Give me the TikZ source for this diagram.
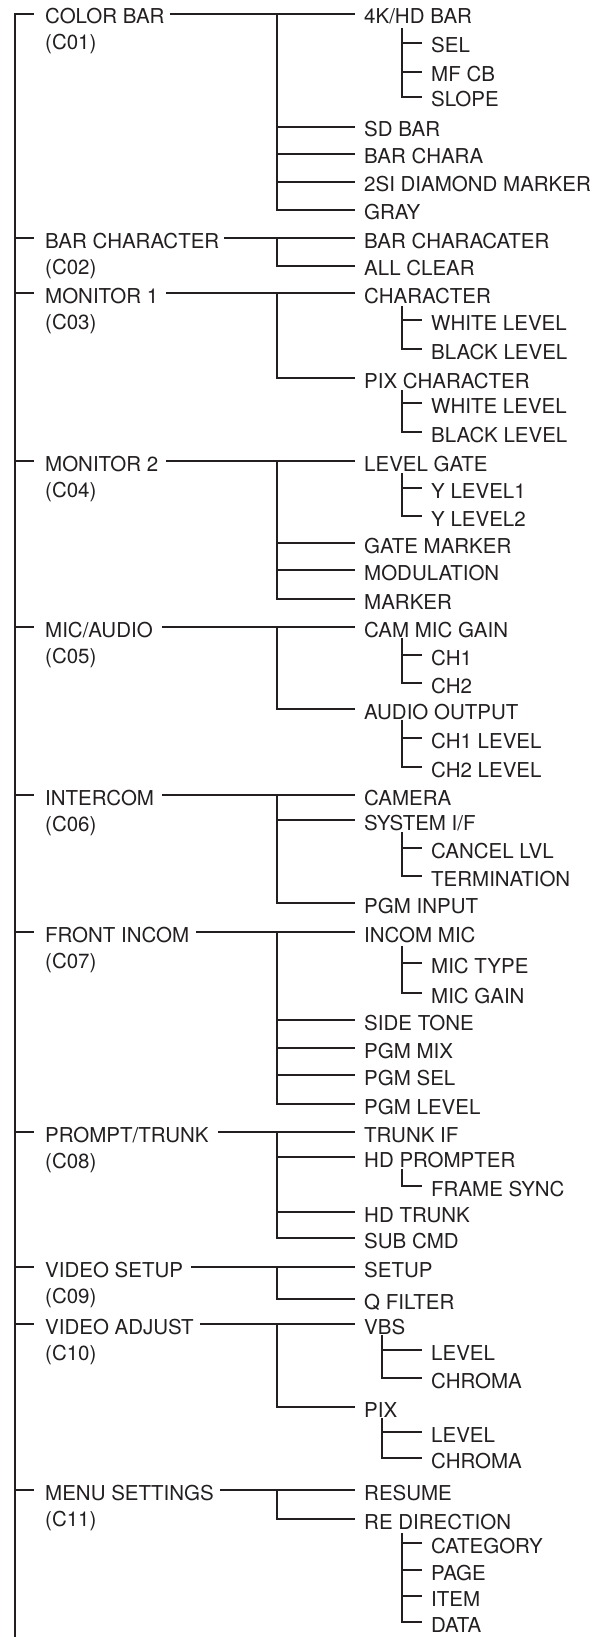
\documentclass[tikz,border=0pt]{standalone}
\usepackage{fontspec}
\setmainfont{TeX Gyre Heros}
\usetikzlibrary{calc}
\definecolor{inkgray}{HTML}{231F20}

\begin{document}
\begin{tikzpicture}[x=1pt,y=-1pt,
  lbl/.style={inner sep=0pt,anchor=west,text height=20pt,text depth=0pt,
    font=\fontsize{20.5}{24}\selectfont,text=inkgray},
  ln/.style={line width=1.1pt,draw=inkgray}]
\useasboundingbox (0,0) rectangle (602,1637);
\coordinate (trunk) at (15,1637);
\coordinate (bus) at (277,0);
\coordinate (sub) at (402,0);
\coordinate (subva) at (382,0);

% Menus
\node[lbl] (cb) at (45,14) {COLOR BAR};
\node[lbl] (bc) at (45,238) {BAR CHARACTER};
\node[lbl] (mona) at (45,293) {MONITOR 1};
\node[lbl] (monb) at (45,461) {MONITOR 2};
\node[lbl] (mic) at (45,627) {MIC/AUDIO};
\node[lbl] (icom) at (45,795) {INTERCOM};
\node[lbl] (fic) at (45,932) {FRONT INCOM};
\node[lbl] (pt) at (45,1132) {PROMPT/TRUNK};
\node[lbl] (vs) at (45,1267) {VIDEO SETUP};
\node[lbl] (va) at (45,1324) {VIDEO ADJUST};
\node[lbl] (ms) at (45,1490) {MENU SETTINGS};
\node[lbl] (c01) at ([yshift=-26pt]cb.west) {(C01)};
\node[lbl] (c02) at ([yshift=-26pt]bc.west) {(C02)};
\node[lbl] (c03) at ([yshift=-26pt]mona.west) {(C03)};
\node[lbl] (c04) at ([yshift=-26pt]monb.west) {(C04)};
\node[lbl] (c05) at ([yshift=-26pt]mic.west) {(C05)};
\node[lbl] (c06) at ([yshift=-26pt]icom.west) {(C06)};
\node[lbl] (c07) at ([yshift=-26pt]fic.west) {(C07)};
\node[lbl] (c08) at ([yshift=-26pt]pt.west) {(C08)};
\node[lbl] (c09) at ([yshift=-26pt]vs.west) {(C09)};
\node[lbl] (c10) at ([yshift=-26pt]va.west) {(C10)};
\node[lbl] (c11) at ([yshift=-26pt]ms.west) {(C11)};

% Items
\node[lbl] (hdbar) at (364,14) {4K/HD BAR};
\node[lbl] (sel) at (431,43) {SEL};
\node[lbl] (mfcb) at (431,72) {MF CB};
\node[lbl] (slope) at (431,97) {SLOPE};
\node[lbl] (sdbar) at (364,127) {SD BAR};
\node[lbl] (barchara) at (364,154) {BAR CHARA};
\node[lbl] (dmark) at (364,182) {2SI DIAMOND MARKER};
\node[lbl] (gray) at (364,210) {GRAY};
\node[lbl] (bchar) at (364,238) {BAR CHARACATER};
\node[lbl] (allclr) at (364,266) {ALL CLEAR};
\node[lbl] (chara) at (364,293) {CHARACTER};
\node[lbl] (wlvla) at (431,320) {WHITE LEVEL};
\node[lbl] (blvla) at (431,349) {BLACK LEVEL};
\node[lbl] (pixchara) at (364,378) {PIX CHARACTER};
\node[lbl] (wlvlb) at (431,403) {WHITE LEVEL};
\node[lbl] (blvlb) at (431,432) {BLACK LEVEL};
\node[lbl] (lgate) at (364,461) {LEVEL GATE};
\node[lbl] (ylvla) at (431,488) {Y LEVEL1};
\node[lbl] (ylvlb) at (431,516) {Y LEVEL2};
\node[lbl] (gmark) at (364,543) {GATE MARKER};
\node[lbl] (modul) at (364,570) {MODULATION};
\node[lbl] (marker) at (364,599) {MARKER};
\node[lbl] (cammic) at (364,627) {CAM MIC GAIN};
\node[lbl] (cha) at (431,655) {CH1};
\node[lbl] (chb) at (431,683) {CH2};
\node[lbl] (audout) at (364,709) {AUDIO OUTPUT};
\node[lbl] (chalvl) at (431,738) {CH1 LEVEL};
\node[lbl] (chblvl) at (431,767) {CH2 LEVEL};
\node[lbl] (camera) at (364,795) {CAMERA};
\node[lbl] (sysif) at (364,820) {SYSTEM I/F};
\node[lbl] (cancel) at (431,848) {CANCEL LVL};
\node[lbl] (term) at (431,876) {TERMINATION};
\node[lbl] (pgmin) at (364,903) {PGM INPUT};
\node[lbl] (incmic) at (364,932) {INCOM MIC};
\node[lbl] (mictype) at (431,963) {MIC TYPE};
\node[lbl] (micgain) at (431,993) {MIC GAIN};
\node[lbl] (stone) at (364,1020) {SIDE TONE};
\node[lbl] (pgmmix) at (364,1048) {PGM MIX};
\node[lbl] (pgmsel) at (364,1075) {PGM SEL};
\node[lbl] (pgmlvl) at (364,1104) {PGM LEVEL};
\node[lbl] (trunkif) at (364,1132) {TRUNK IF};
\node[lbl] (hdprompt) at (364,1157) {HD PROMPTER};
\node[lbl] (fsync) at (431,1186) {FRAME SYNC};
\node[lbl] (hdtrunk) at (364,1212) {HD TRUNK};
\node[lbl] (subcmd) at (364,1238) {SUB CMD};
\node[lbl] (setup) at (364,1267) {SETUP};
\node[lbl] (qfilter) at (364,1299) {Q FILTER};
\node[lbl] (vbs) at (364,1324) {VBS};
\node[lbl] (vbslvl) at (431,1350) {LEVEL};
\node[lbl] (vbschr) at (431,1378) {CHROMA};
\node[lbl] (pix) at (364,1407) {PIX};
\node[lbl] (pixlvl) at (431,1432) {LEVEL};
\node[lbl] (pixchr) at (431,1458) {CHROMA};
\node[lbl] (resume) at (364,1490) {RESUME};
\node[lbl] (redir) at (364,1519) {RE DIRECTION};
\node[lbl] (categ) at (431,1543) {CATEGORY};
\node[lbl] (page) at (431,1570) {PAGE};
\node[lbl] (item) at (431,1596) {ITEM};
\node[lbl] (data) at (431,1622) {DATA};

% Trunk
\draw[ln] (trunk) |- ([xshift=-11pt]cb.west);
\draw[ln] (bc.west -| trunk) -- ([xshift=-11pt]bc.west);
\draw[ln] (mona.west -| trunk) -- ([xshift=-11pt]mona.west);
\draw[ln] (monb.west -| trunk) -- ([xshift=-11pt]monb.west);
\draw[ln] (mic.west -| trunk) -- ([xshift=-11pt]mic.west);
\draw[ln] (icom.west -| trunk) -- ([xshift=-11pt]icom.west);
\draw[ln] (fic.west -| trunk) -- ([xshift=-11pt]fic.west);
\draw[ln] (pt.west -| trunk) -- ([xshift=-11pt]pt.west);
\draw[ln] (vs.west -| trunk) -- ([xshift=-11pt]vs.west);
\draw[ln] (va.west -| trunk) -- ([xshift=-11pt]va.west);
\draw[ln] (ms.west -| trunk) -- ([xshift=-11pt]ms.west);

% COLOR BAR
\draw[ln] ([xshift=5pt]cb.east) -- ([xshift=-9pt]hdbar.west);
\draw[ln] (hdbar.west -| bus) |- ([xshift=-9pt]gray.west);
\draw[ln] (sdbar.west -| bus) -- ([xshift=-9pt]sdbar.west);
\draw[ln] (barchara.west -| bus) -- ([xshift=-9pt]barchara.west);
\draw[ln] (dmark.west -| bus) -- ([xshift=-9pt]dmark.west);
\draw[ln] ($(hdbar.west -| sub)+(0,14)$) |- ([xshift=-9pt]slope.west);
\draw[ln] (sel.west -| sub) -- ([xshift=-9pt]sel.west);
\draw[ln] (mfcb.west -| sub) -- ([xshift=-9pt]mfcb.west);

% BAR CHARACTER
\draw[ln] ([xshift=5pt]bc.east) -- ([xshift=-9pt]bchar.west);
\draw[ln] (bchar.west -| bus) |- ([xshift=-9pt]allclr.west);

% MONITOR 1
\draw[ln] ([xshift=8pt]mona.east) -- ([xshift=-9pt]chara.west);
\draw[ln] (chara.west -| bus) |- ([xshift=-9pt]pixchara.west);
\draw[ln] ($(chara.west -| sub)+(0,13)$) |- ([xshift=-9pt]blvla.west);
\draw[ln] (wlvla.west -| sub) -- ([xshift=-9pt]wlvla.west);
\draw[ln] ($(pixchara.west -| sub)+(0,12)$) |- ([xshift=-9pt]blvlb.west);
\draw[ln] (wlvlb.west -| sub) -- ([xshift=-9pt]wlvlb.west);

% MONITOR 2
\draw[ln] ([xshift=8pt]monb.east) -- ([xshift=-9pt]lgate.west);
\draw[ln] (lgate.west -| bus) |- ([xshift=-9pt]marker.west);
\draw[ln] (gmark.west -| bus) -- ([xshift=-9pt]gmark.west);
\draw[ln] (modul.west -| bus) -- ([xshift=-9pt]modul.west);
\draw[ln] ($(lgate.west -| sub)+(0,12)$) |- ([xshift=-9pt]ylvlb.west);
\draw[ln] (ylvla.west -| sub) -- ([xshift=-9pt]ylvla.west);

% MIC/AUDIO
\draw[ln] ([xshift=9pt]mic.east) -- ([xshift=-9pt]cammic.west);
\draw[ln] (cammic.west -| bus) |- ([xshift=-9pt]audout.west);
\draw[ln] ($(cammic.west -| sub)+(0,11)$) |- ([xshift=-9pt]chb.west);
\draw[ln] (cha.west -| sub) -- ([xshift=-9pt]cha.west);
\draw[ln] ($(audout.west -| sub)+(0,11)$) |- ([xshift=-9pt]chblvl.west);
\draw[ln] (chalvl.west -| sub) -- ([xshift=-9pt]chalvl.west);

% INTERCOM
\draw[ln] ([xshift=8pt]icom.east) -- ([xshift=-9pt]camera.west);
\draw[ln] (camera.west -| bus) |- ([xshift=-9pt]pgmin.west);
\draw[ln] (sysif.west -| bus) -- ([xshift=-9pt]sysif.west);
\draw[ln] ($(sysif.west -| sub)+(0,12)$) |- ([xshift=-9pt]term.west);
\draw[ln] (cancel.west -| sub) -- ([xshift=-9pt]cancel.west);

% FRONT INCOM
\draw[ln] ([xshift=7pt]fic.east) -- ([xshift=-9pt]incmic.west);
\draw[ln] (incmic.west -| bus) |- ([xshift=-9pt]pgmlvl.west);
\draw[ln] (stone.west -| bus) -- ([xshift=-9pt]stone.west);
\draw[ln] (pgmmix.west -| bus) -- ([xshift=-9pt]pgmmix.west);
\draw[ln] (pgmsel.west -| bus) -- ([xshift=-9pt]pgmsel.west);
\draw[ln] ($(incmic.west -| sub)+(0,14)$) |- ([xshift=-9pt]micgain.west);
\draw[ln] (mictype.west -| sub) -- ([xshift=-9pt]mictype.west);

% PROMPT/TRUNK
\draw[ln] ([xshift=9pt]pt.east) -- ([xshift=-9pt]trunkif.west);
\draw[ln] (trunkif.west -| bus) |- ([xshift=-9pt]subcmd.west);
\draw[ln] (hdprompt.west -| bus) -- ([xshift=-9pt]hdprompt.west);
\draw[ln] (hdtrunk.west -| bus) -- ([xshift=-9pt]hdtrunk.west);
\draw[ln] ($(hdprompt.west -| sub)+(0,12)$) |- ([xshift=-9pt]fsync.west);

% VIDEO SETUP
\draw[ln] ([xshift=8pt]vs.east) -- ([xshift=-9pt]setup.west);
\draw[ln] (setup.west -| bus) |- ([xshift=-9pt]qfilter.west);

% VIDEO ADJUST
\draw[ln] ([xshift=6pt]va.east) -- ([xshift=-9pt]vbs.west);
\draw[ln] (vbs.west -| bus) |- ([xshift=-9pt]pix.west);
\draw[ln] ($(vbs.west -| subva)+(0,11)$) |- ([xshift=-9pt]vbschr.west);
\draw[ln] (vbslvl.west -| subva) -- ([xshift=-9pt]vbslvl.west);
\draw[ln] ($(pix.west -| subva)+(0,11)$) |- ([xshift=-9pt]pixchr.west);
\draw[ln] (pixlvl.west -| subva) -- ([xshift=-9pt]pixlvl.west);

% MENU SETTINGS
\draw[ln] ([xshift=6pt]ms.east) -- ([xshift=-9pt]resume.west);
\draw[ln] (resume.west -| bus) |- ([xshift=-9pt]redir.west);
\draw[ln] ($(redir.west -| sub)+(0,14)$) |- ([xshift=-9pt]data.west);
\draw[ln] (categ.west -| sub) -- ([xshift=-9pt]categ.west);
\draw[ln] (page.west -| sub) -- ([xshift=-9pt]page.west);
\draw[ln] (item.west -| sub) -- ([xshift=-9pt]item.west);

\end{tikzpicture}
\end{document}
